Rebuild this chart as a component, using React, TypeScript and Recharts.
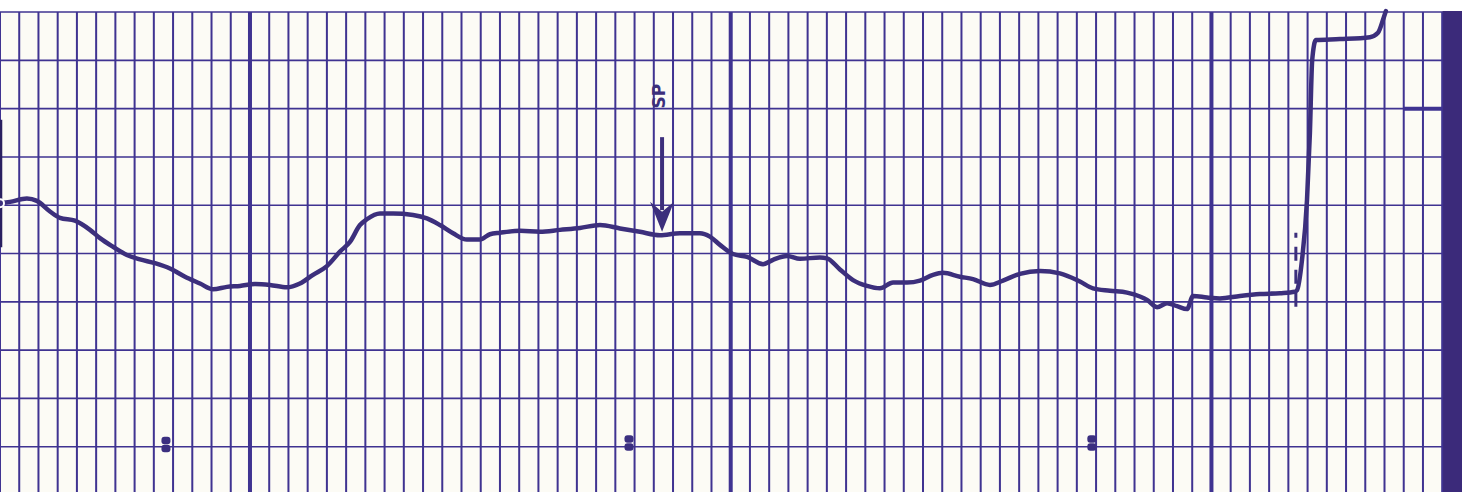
import React from "react";
import {
  ComposedChart,
  Line,
  Scatter,
  XAxis,
  YAxis,
  ReferenceLine,
  ReferenceArea,
  ReferenceDot,
} from "recharts";

// time in minor chart divisions, level in major (horizontal) divisions
const traceTime = [
  0, 0.52, 1.4, 1.92, 2.6, 3.12, 3.9, 4.68, 5.2, 5.88, 6.6, 7.28, 8.06, 8.84, 9.62, 10.4,
  11.08, 11.8, 12.48, 13.26, 14.04, 14.92, 15.6, 16.28, 17.0, 17.68, 18.2, 18.72, 19.08,
  19.76, 20.44, 21.48, 22.2, 22.88, 23.56, 24.28, 24.96, 25.48, 26.0, 27.04, 28.08, 29.12,
  30.16, 31.2, 32.24, 33.28, 34.32, 35.36, 36.4, 36.92, 37.44, 38.12, 38.85, 39.68, 40.2,
  40.93, 41.6, 42.64, 43.01, 43.68, 44.36, 45.09, 45.76, 46.44, 47.17, 47.84, 48.52, 49.04,
  49.92, 50.6, 51.48, 52.16, 53.04, 54.08, 55.12, 56.16, 56.84, 57.72, 58.61, 59.28, 59.65,
  60.17, 60.69, 61.21, 61.73, 62.04, 62.77, 63.44, 64.48, 65.52, 66.56, 67.34, 67.45, 67.71,
  67.97, 68.12, 68.24, 68.43, 69.68, 71.24, 71.66, 71.97, 72.07,
];
const traceLevel = [
  6.04, 6.07, 6.14, 6.09, 5.87, 5.74, 5.68, 5.49, 5.32, 5.14, 4.97, 4.88, 4.8, 4.69, 4.52, 4.38,
  4.26, 4.31, 4.33, 4.37, 4.35, 4.3, 4.38, 4.56, 4.74, 5.04, 5.24, 5.59, 5.71,
  5.83, 5.83, 5.8, 5.73, 5.59, 5.42, 5.29, 5.29, 5.4, 5.43, 5.47, 5.45, 5.49,
  5.53, 5.59, 5.52, 5.45, 5.38, 5.42, 5.42, 5.35, 5.18, 4.99, 4.93, 4.78, 4.87,
  4.95, 4.89, 4.92, 4.9, 4.67, 4.45, 4.33, 4.28, 4.4, 4.4, 4.44, 4.56, 4.6,
  4.52, 4.47, 4.35, 4.44, 4.58, 4.64, 4.59, 4.42, 4.28, 4.23, 4.19, 4.11, 4.04,
  3.89, 3.97, 3.91, 3.85, 4.12, 4.09, 4.07, 4.12, 4.16, 4.18, 4.21, 4.24, 4.87,
  6.11, 7.5, 9.01, 9.42, 9.44, 9.48, 9.57, 9.9, 10.02,
];

const markTime = [8.63, 32.71, 56.78];
const markLevel = [1.05, 1.08, 1.08];

const arrowTime = 34.43;
const arrowTop = 7.41;
const arrowTip = 5.45;
const labelText = "SP";
const labelLevel = 8.26;
const labelTime = 34.27;

const trace = traceTime.map((t, i) => ({ t, v: traceLevel[i] }));
const marks = markTime.map((t, i) => ({ t, v: markLevel[i] }));

const minorCount = 76;
const verticals = Array.from({ length: minorCount }, (_, k) => k);
const horizontals = Array.from({ length: 11 }, (_, k) => k);

const INK = "#3f3391";
const TRACE = "#3c2f7c";
const PAPER = "#fcfbf5";

const MarkShape = (props: any) => {
  const { cx, cy } = props;
  return (
    <g fill="#3b2f80">
      <rect x={cx - 4.5} y={cy - 7.5} width={9} height={7.5} rx={3} />
      <rect x={cx - 4.5} y={cy + 0.5} width={9} height={7.5} rx={3} />
    </g>
  );
};

const ArrowHead = (props: any) => {
  const { cx, cy } = props;
  return (
    <path
      d={`M ${cx} ${cy} L ${cx - 12} ${cy - 30} L ${cx} ${cy - 20} L ${cx + 12} ${cy - 30} Z`}
      fill={TRACE}
    />
  );
};

const LabelShape = (props: any) => {
  const { cx, cy } = props;
  return (
    <text
      x={cx}
      y={cy}
      transform={`rotate(-90 ${cx} ${cy})`}
      textAnchor="middle"
      dominantBaseline="central"
      fontFamily="DejaVu Sans, sans-serif"
      fontWeight="bold"
      fontSize={17}
      fill={TRACE}
    >
      {labelText}
    </text>
  );
};

export default function App() {
  return (
    <div style={{ width: 1462, height: 492, overflow: "hidden", background: "#ffffff" }}>
      <style>{"body{margin:0}"}</style>
      <ComposedChart
        width={1462}
        height={495}
        data={trace}
        margin={{ top: 0, right: 0, bottom: 0, left: 0 }}
      >
        <XAxis type="number" dataKey="t" domain={[0, 76.03]} hide allowDataOverflow />
        <YAxis type="number" domain={[0, 10.25]} hide allowDataOverflow />
        <ReferenceArea x1={0} x2={76.03} y1={0} y2={10} fill={PAPER} fillOpacity={1} stroke="none" />
        {horizontals.map((k) => (
          <ReferenceLine
            key={"h" + k}
            segment={[{ x: 0, y: k }, { x: 75, y: k }]}
            stroke={INK}
            strokeWidth={1.6}
          />
        ))}
        {verticals.map((k) => (
          <ReferenceLine
            key={"v" + k}
            segment={[{ x: k, y: 0 }, { x: k, y: 10 }]}
            stroke={INK}
            strokeWidth={k % 25 === 13 ? 4 : 2}
          />
        ))}
        <ReferenceLine segment={[{ x: 73, y: 8 }, { x: 75, y: 8 }]} stroke={INK} strokeWidth={4} />
        <ReferenceArea x1={75} x2={76.03} y1={0} y2={10.02} fill="#3b2a7a" fillOpacity={1} stroke="none" />
        <ReferenceLine segment={[{ x: 0.04, y: 5.13 }, { x: 0.04, y: 7.77 }]} stroke="#2a2060" strokeWidth={3} />
        <ReferenceLine segment={[{ x: 68.54, y: 10 }, { x: 68.54, y: 10.3 }]} stroke="#2a2060" strokeWidth={2} />
        <ReferenceLine
          segment={[{ x: 67.39, y: 3.9 }, { x: 67.39, y: 5.43 }]}
          stroke={TRACE}
          strokeWidth={3}
          strokeDasharray="14 9"
        />
        <ReferenceLine
          segment={[{ x: arrowTime, y: arrowTop }, { x: arrowTime, y: arrowTip + 0.45 }]}
          stroke={TRACE}
          strokeWidth={4}
        />
        <ReferenceDot x={arrowTime} y={arrowTip} r={1} shape={ArrowHead} />
        <ReferenceDot x={labelTime} y={labelLevel} r={1} shape={LabelShape} />
        <Scatter data={marks} dataKey="v" shape={MarkShape} isAnimationActive={false} />
        <Line
          type="monotoneX"
          dataKey="v"
          stroke={TRACE}
          strokeWidth={4.5}
          strokeLinejoin="round"
          strokeLinecap="round"
          dot={false}
          isAnimationActive={false}
        />
      </ComposedChart>
    </div>
  );
}
